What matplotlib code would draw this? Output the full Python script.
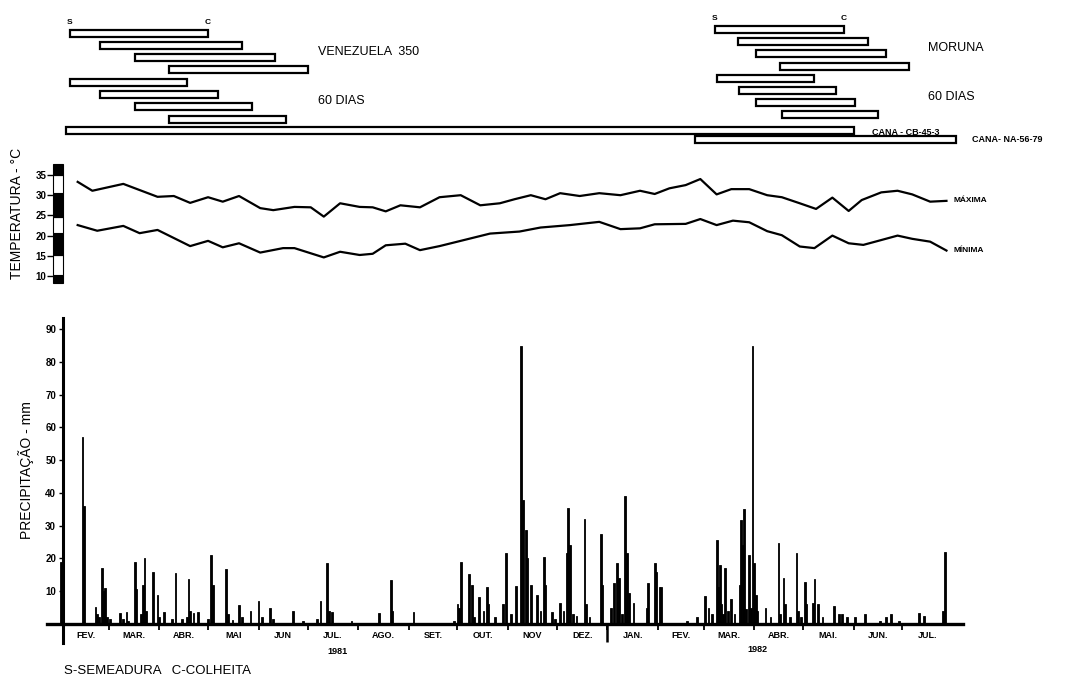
import matplotlib
matplotlib.use('Agg')
import matplotlib.pyplot as plt
import numpy as np
import pandas as pd

plt.rcParams['font.family'] = ['Liberation Sans', 'DejaVu Sans']

# time axis: days counted from 1 Feb 1981
start = pd.Timestamp('1981-02-01')
month_starts = pd.date_range('1981-02-01', '1982-08-01', freq='MS')
month_names = ['FEV.', 'MAR.', 'ABR.', 'MAI', 'JUN', 'JUL.', 'AGO.', 'SET.', 'OUT.',
               'NOV', 'DEZ.', 'JAN.', 'FEV.', 'MAR.', 'ABR.', 'MAI.', 'JUN.', 'JUL.']
year_break = pd.Timestamp('1982-01-01')

# daily rainfall (mm)
rain_day = [-1, 0, 12, 13, 20, 21, 22, 24, 25, 26, 27, 29, 35, 37, 39, 40, 44, 45, 48, 49,
            50, 51, 55, 58, 59, 62, 67, 69, 73, 76, 77, 78, 80, 83, 89, 91, 92, 100, 101, 104,
            108, 110, 115, 120, 122, 127, 129, 141, 147, 156, 158, 162, 163, 165, 177, 194, 201, 202, 215, 240,
            242, 243, 244, 249, 251, 252, 255, 258, 260, 261, 265, 270, 272, 275, 278, 281, 282, 284, 285, 287,
            291, 293, 295, 296, 300, 302, 305, 307, 309, 310, 311, 313, 315, 320, 321, 323, 330, 331, 336, 338,
            340, 341, 343, 345, 346, 347, 350, 358, 359, 363, 364, 366, 367, 383, 389, 394, 396, 398, 401, 402,
            403, 404, 405, 406, 408, 410, 412, 415, 416, 417, 418, 419, 421, 422, 423, 424, 425, 426, 431, 434,
            439, 440, 442, 443, 446, 450, 451, 453, 455, 456, 460, 461, 463, 466, 473, 476, 478, 481, 486, 492,
            501, 505, 508, 513, 525, 528, 540, 541]
rain_mm = [19, 64, 57, 36, 5.3, 3, 2, 17, 10, 11, 2, 1.5, 3.3, 1.5, 3.7, 1, 19, 10.7, 3, 12,
           20, 4, 15.8, 9, 2, 3.7, 1.5, 15.5, 1.5, 2, 13.7, 4, 3.5, 3.7, 1.5, 21, 12, 16.7, 3, 1.3,
           5.8, 2, 4, 7.1, 2, 4.8, 1.5, 4, 1, 1.5, 7, 18.5, 4, 3.7, 1, 3.5, 13.4, 4, 3.6, 0.8,
           6, 5, 19, 15.2, 12, 2, 8.1, 4, 11.4, 6, 2, 6.2, 21.6, 3, 11.6, 85, 38, 28.7, 20, 12,
           8.9, 4, 20.6, 12, 3.7, 1.5, 6.3, 4, 21.6, 35.3, 24, 3, 2.5, 32, 6, 2, 27.5, 12, 5, 12.4,
           18.5, 14, 3, 39.2, 21.6, 9.6, 6.3, 5, 12.6, 18.5, 16, 11.4, 11.4, 1, 2, 8.5, 5, 3, 25.6, 11.4,
           18, 6, 3, 17, 4, 7.5, 3, 11.9, 31.8, 24, 35, 4.5, 21, 5, 85, 18.5, 8.9, 4, 5, 2,
           24.6, 3, 14, 6, 2, 21.6, 4, 2, 12.9, 6, 6.5, 13.6, 6, 2, 5.5, 3, 3, 2, 2, 3,
           1, 2, 3, 1, 3.5, 2.5, 4, 22.1]

# air temperature (oC)
tmax_day = [9, 18, 37, 58, 68, 78, 89, 98, 108, 121, 129, 142, 152, 160, 170, 182, 190, 198,
            207, 219, 231, 244, 256, 268, 277, 287, 296, 305, 317, 329, 342, 354, 363, 372,
            382, 391, 401, 410, 421, 432, 441, 452, 462, 472, 482, 490, 502, 512, 521, 532, 542]
tmax = [33.3, 31.1, 32.8, 29.6, 29.8, 28.1, 29.5, 28.4, 29.8, 26.8, 26.3, 27.1, 27.0, 24.7,
        28.0, 27.1, 27.0, 26.0, 27.5, 27.0, 29.5, 30.0, 27.5, 28.0, 29.0, 30.0, 29.0, 30.5,
        29.8, 30.5, 30.0, 31.1, 30.3, 31.7, 32.5, 34.0, 30.2, 31.5, 31.5, 30.0, 29.5, 28.0,
        26.6, 29.4, 26.1, 28.8, 30.7, 31.1, 30.2, 28.4, 28.6]
tmin_day = [9, 21, 37, 47, 58, 78, 89, 98, 108, 121, 135, 142, 160, 170, 182, 190, 198, 210,
            219, 231, 244, 262, 280, 293, 311, 329, 342, 354, 363, 382, 391, 401, 411, 421,
            432, 441, 452, 461, 472, 482, 491, 502, 512, 521, 532, 542]
tmin = [22.6, 21.2, 22.4, 20.6, 21.4, 17.4, 18.7, 17.1, 18.1, 15.8, 16.9, 16.9, 14.6, 16.0,
        15.2, 15.5, 17.6, 18.0, 16.4, 17.4, 18.7, 20.5, 21.0, 22.0, 22.6, 23.4, 21.6, 21.8,
        22.8, 22.9, 24.1, 22.6, 23.7, 23.3, 21.1, 20.1, 17.3, 16.9, 20.0, 18.1, 17.7, 18.9,
        20.0, 19.2, 18.5, 16.3]
scale_edges = [8.3, 10.2, 15.2, 20.6, 24.6, 30.5, 35.0, 37.7]

# sowing (S) to harvest (C), days from 1 Feb 1981
ven_start = [4, 23, 44, 65, 4, 23, 44, 65]
ven_end = [89, 110, 130, 150, 76, 95, 116, 137]
mor_start = [400, 414, 425, 440, 401, 415, 425, 441]
mor_end = [479, 494, 505, 519, 461, 474, 486, 500]
cana_names = ['CANA - CB-45-3', 'CANA- NA-56-79']
cana_start = [2, 388]
cana_end = [485, 548]

W, H = 1069, 678
px_day = 1.63
fig = plt.figure(figsize=(W / 100, H / 100), dpi=100)


def px_axes(x0, y0, x1, y1):
    return fig.add_axes([x0 / W, 1 - y1 / H, (x1 - x0) / W, (y1 - y0) / H])


xlim = ((47 - 63) / px_day, (963 - 63) / px_day)
mdays = np.array((month_starts - start).days)
mids = mdays[:-1] + np.diff(mdays) / 2
ybreak = (year_break - start).days

# ---- precipitation ----
ax_p = px_axes(47, 318, 963, 643)
ax_p.bar(rain_day, rain_mm, width=1.1, color='black', edgecolor='black', linewidth=0.6)
ax_p.set_xlim(xlim)
ax_p.set_ylim(-5.8, 93.4)
for s in ['top', 'right']:
    ax_p.spines[s].set_visible(False)
ax_p.spines['left'].set_position(('data', 0))
ax_p.spines['bottom'].set_position(('data', 0))
ax_p.spines['left'].set_linewidth(2.2)
ax_p.spines['bottom'].set_linewidth(2.4)
ax_p.set_yticks(range(10, 100, 10))
ax_p.tick_params(axis='y', direction='out', length=3, width=1, pad=2, labelsize=7)
for t in ax_p.get_yticklabels():
    t.set_fontweight('bold')
ax_p.set_xticks(mdays[1:-1])
ax_p.set_xticklabels([])
ax_p.tick_params(axis='x', which='major', direction='out', length=4, width=1.3)
ax_p.set_xticks(mids, minor=True)
ax_p.set_xticklabels(month_names, minor=True, fontsize=6.5, fontweight='bold')
ax_p.tick_params(axis='x', which='minor', length=0, pad=5)
ax_p.vlines(ybreak, -5.5, 0, color='black', lw=1.8)
fig.text(338 / W, 1 - 652 / H, '1981', fontsize=6.5, fontweight='bold', ha='center', va='center')
fig.text(757 / W, 1 - 650 / H, '1982', fontsize=6.5, fontweight='bold', ha='center', va='center')
fig.text(26 / W, 1 - 470 / H, 'PRECIPITAÇÃO - mm', rotation=90, fontsize=10,
         ha='center', va='center')
fig.text(64 / W, 1 - 671 / H, 'S-SEMEADURA   C-COLHEITA', fontsize=9.5, ha='left', va='center')

# ---- temperature ----
ax_t = px_axes(47, 160, 963, 290)
ax_t.plot(tmax_day, tmax, color='black', lw=1.6)
ax_t.plot(tmin_day, tmin, color='black', lw=1.6)
ax_t.set_xlim(xlim)
ax_t.set_ylim(10 + (276 - 290) / 4.04, 10 + (276 - 160) / 4.04)
for s in ['top', 'right', 'bottom']:
    ax_t.spines[s].set_visible(False)
ax_t.spines['left'].set_position(('axes', 0.0066))
ax_t.spines['left'].set_color('none')
ax_t.set_xticks([])
ax_t.set_yticks(range(10, 40, 5))
ax_t.tick_params(axis='y', direction='out', length=4, width=1, pad=1, labelsize=7)
for t in ax_t.get_yticklabels():
    t.set_fontweight('bold')
for i in range(len(scale_edges) - 1):
    ax_t.axhspan(scale_edges[i], scale_edges[i + 1], xmin=0.0066, xmax=0.0175,
                 facecolor='black' if i % 2 == 0 else 'white', edgecolor='black', lw=0.8)
ax_t.annotate('MÁXIMA', (tmax_day[-1], tmax[-1]), xytext=(5, 0), textcoords='offset points',
              fontsize=6, fontweight='bold', va='center')
ax_t.annotate('MÍNIMA', (tmin_day[-1], tmin[-1]), xytext=(5, 0), textcoords='offset points',
              fontsize=6, fontweight='bold', va='center')
fig.text(17 / W, 1 - 213 / H, 'TEMPERATURA - °C', rotation=90, fontsize=10,
         ha='center', va='center')

# ---- sowing / harvest periods ----
ax_g = px_axes(47, 0, 963, 150)
ax_g.set_xlim(xlim)
ax_g.set_ylim(150, 0)
ax_g.axis('off')
ven_y = 33 + 12.3 * np.arange(len(ven_start))
mor_y = 29.5 + 12.2 * np.arange(len(mor_start))
bar_kw = dict(height=7, facecolor='white', edgecolor='black', lw=1.6)
ax_g.barh(ven_y, np.subtract(ven_end, ven_start), left=ven_start, **bar_kw)
ax_g.barh(mor_y, np.subtract(mor_end, mor_start), left=mor_start, **bar_kw)
cana_y = [130, 139.5]
ax_g.barh(cana_y, np.subtract(cana_end, cana_start), left=cana_start, **bar_kw)
for xs, xe, y in [(ven_start[0], ven_end[0], ven_y[0]), (mor_start[0], mor_end[0], mor_y[0])]:
    ax_g.text(xs, y - 11, 'S', fontsize=6, fontweight='bold', ha='center', va='center')
    ax_g.text(xe, y - 11, 'C', fontsize=6, fontweight='bold', ha='center', va='center')
ax_g.text((318 - 63) / px_day, 52, 'VENEZUELA  350', fontsize=9, va='center')
ax_g.text((318 - 63) / px_day, 101, '60 DIAS', fontsize=9, va='center')
ax_g.text((928 - 63) / px_day, 48, 'MORUNA', fontsize=9, va='center')
ax_g.text((928 - 63) / px_day, 97, '60 DIAS', fontsize=9, va='center')
ax_g.annotate(cana_names[0], (cana_end[0], cana_y[0]), xytext=(13, -2), textcoords='offset points',
              fontsize=6.5, fontweight='bold', va='center')
ax_g.annotate(cana_names[1], (cana_end[1], cana_y[1]), xytext=(11, 0), textcoords='offset points',
              fontsize=6.5, fontweight='bold', va='center')

fig.savefig('out.png', dpi=100)
